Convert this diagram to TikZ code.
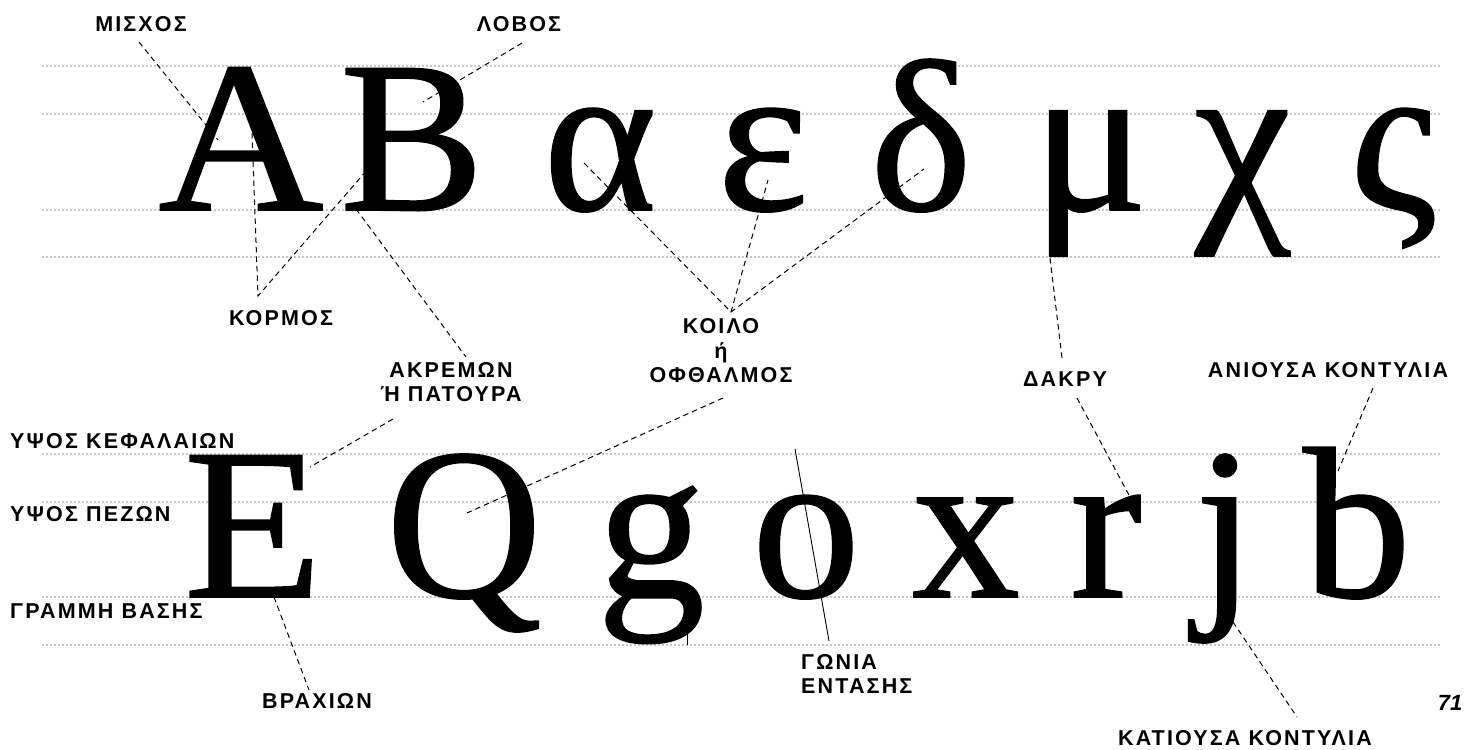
\documentclass[tikz,border=0pt]{standalone}
\usepackage{fontspec}
\setmainfont{Liberation Serif}
\newfontfamily\glyphfont[FakeBold=0.8]{Liberation Serif}
\newfontfamily\labfont[LetterSpace=10]{Liberation Sans Bold}
\newfontfamily\pagefont{Liberation Sans Bold Italic}
\tikzset{
  guide/.style={draw=black!45, line width=1.8pt, line cap=round, dash pattern=on 0pt off 4pt},
  glyph/.style={font=\glyphfont\fontsize{216}{216}\selectfont, inner sep=0pt, anchor=base},
  lab/.style={font=\labfont\fontsize{21.5}{24.5}\selectfont, inner sep=0pt, align=center},
  leader/.style={draw=black, line width=1pt, dash pattern=on 5.5pt off 4pt},
  solidleader/.style={draw=black, line width=0.9pt}
}
\begin{document}
\begin{tikzpicture}[x=1pt,y=-1pt]
\useasboundingbox (0,0) rectangle (1468,750);
% guide lines
\foreach \yy in {66,114,210,257,454,502,597,645}
  \draw[guide] (43,\yy) -- (1441,\yy);
% top row glyphs
\node[glyph, xscale=1.06] (gA) at (241,210) {A};
\node[glyph] (gB) at (412,210) {B};
\node[glyph] (galpha) at (600,210) {α};
\node[glyph] (geps) at (763,210) {ε};
\node[glyph] (gdelta) at (921,210) {δ};
\node[glyph] (gmu) at (1090,210) {μ};
\node[glyph] (gchi) at (1243,210) {χ};
\node[glyph] (gsig) at (1393,210) {ς};
% bottom row glyphs
\node[glyph, xscale=1.05] (gE) at (253,597) {E};
\node[glyph] (gQ) at (464,597) {Q};
\node[glyph] (gg) at (651,597) {g};
\node[glyph] (go) at (806,597) {o};
\node[glyph] (gx) at (966,597) {x};
\node[glyph] (gr) at (1106,597) {r};
\node[glyph] (gj) at (1225,597) {j};
\node[glyph] (gb) at (1357,597) {b};
% labels
\node[lab] (lmis) at (141,24) {ΜΙΣΧΟΣ};
\node[lab] (llob) at (519,24) {ΛΟΒΟΣ};
\node[lab] (lkor) at (281,318) {ΚΟΡΜΟΣ};
\node[lab] (lakr) at (451,382) {ΑΚΡΕΜΩΝ\\Ή ΠΑΤΟΥΡΑ};
\node[lab] (lkoi) at (721,351) {ΚΟΙΛΟ\\ή\\ΟΦΘΑΛΜΟΣ};
\node[lab] (ldak) at (1065,379) {ΔΑΚΡΥ};
\node[lab] (lani) at (1328,370) {ΑΝΙΟΥΣΑ ΚΟΝΤΥΛΙΑ};
\node[lab, anchor=west] (lkef) at (10,441) {ΥΨΟΣ ΚΕΦΑΛΑΙΩΝ};
\node[lab, anchor=west] (lpez) at (10,514) {ΥΨΟΣ ΠΕΖΩΝ};
\node[lab, anchor=west] (lbas) at (10,611) {ΓΡΑΜΜΗ ΒΑΣΗΣ};
\node[lab] (lbra) at (317,701) {ΒΡΑΧΙΩΝ};
\node[lab, align=left, anchor=west] (lgon) at (801,674) {ΓΩΝΙΑ\\ΕΝΤΑΣΗΣ};
\node[lab] (lkat) at (1245,738) {ΚΑΤΙΟΥΣΑ ΚΟΝΤΥΛΙΑ};
\node[font=\pagefont\fontsize{22}{22}\selectfont, inner sep=0pt] (pnum) at (1450,703) {71};
% connector end points
\coordinate (cmis1) at (139,42);   \coordinate (cmis2) at (218,140);
\coordinate (clob1) at (522,43);   \coordinate (clob2) at (423,102);
\coordinate (ckor) at (258,296);   \coordinate (ckorA) at (252,133); \coordinate (ckorB) at (367,170);
\coordinate (cakr1) at (356,209);  \coordinate (cakr2) at (466,357);
\coordinate (ckoi) at (731,312);
\coordinate (ckoiA) at (584,163);  \coordinate (ckoiE) at (768,180); \coordinate (ckoiD) at (924,169);
\coordinate (cdak1) at (1050,258); \coordinate (cdak2) at (1062,358);
\coordinate (cakrE1) at (393,419); \coordinate (cakrE2) at (310,467);
\coordinate (coph1) at (723,398);  \coordinate (coph2) at (467,513);
\coordinate (cbra1) at (274,597);  \coordinate (cbra2) at (309,690);
\coordinate (cdakr1) at (1077,398); \coordinate (cdakr2) at (1130,497);
\coordinate (cani1) at (1373,388); \coordinate (cani2) at (1338,471);
\coordinate (ckat1) at (1233,622); \coordinate (ckat2) at (1297,717);
\coordinate (cgon1) at (795,449);  \coordinate (cgon2) at (829,641);
\coordinate (cear1) at (687,607);  \coordinate (cear2) at (687,645);
% connectors
\draw[leader] (cmis1) -- (cmis2);
\draw[leader] (clob1) -- (clob2);
\draw[leader] (ckorA) -- (ckor) -- (ckorB);
\draw[leader] (cakr1) -- (cakr2);
\draw[leader] (ckoiA) -- (ckoi) -- (ckoiD);
\draw[leader] (ckoi) -- (ckoiE);
\draw[leader] (cdak1) -- (cdak2);
\draw[leader] (cakrE1) -- (cakrE2);
\draw[leader] (coph1) -- (coph2);
\draw[leader] (cbra1) -- (cbra2);
\draw[leader] (cdakr1) -- (cdakr2);
\draw[leader] (cani1) -- (cani2);
\draw[leader] (ckat1) -- (ckat2);
\draw[solidleader] (cgon1) -- (cgon2);
\draw[solidleader] (cear1) -- (cear2);
\end{tikzpicture}
\end{document}
